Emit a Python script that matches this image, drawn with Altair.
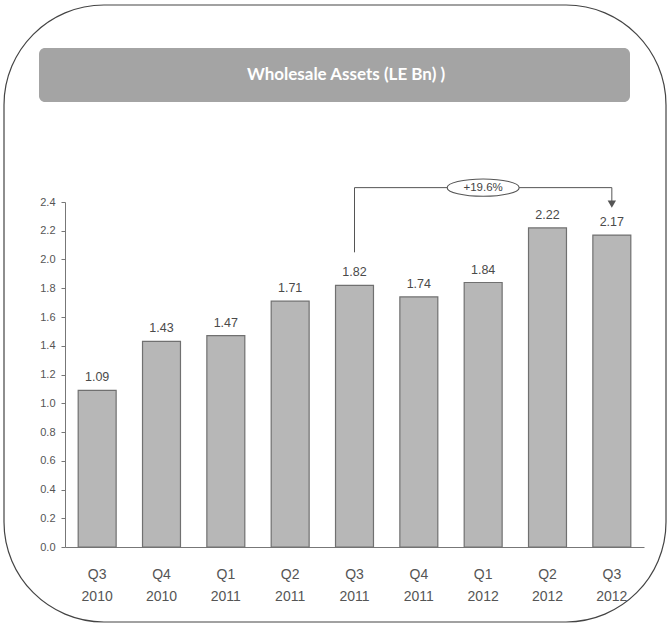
import altair as alt
import pandas as pd

# ---- data ----
quarters = ["Q3 2010", "Q4 2010", "Q1 2011", "Q2 2011", "Q3 2011",
            "Q4 2011", "Q1 2012", "Q2 2012", "Q3 2012"]
assets = [1.09, 1.43, 1.47, 1.71, 1.82, 1.74, 1.84, 2.22, 2.17]
y_ticks = [0.0, 0.2, 0.4, 0.6, 0.8, 1.0, 1.2, 1.4, 1.6, 1.8, 2.0, 2.2, 2.4]

title_text = "Wholesale Assets (LE Bn) )"

# growth bracket annotation (from Q3 2011 to Q3 2012)
bracket_cats = ["Q3 2011", "Q3 2011", "Q3 2012", "Q3 2012"]
bracket_vals = [2.05, 2.50, 2.50, 2.39]
bracket_order = [0, 1, 2, 3]
growth_label = ["+19.6%"]
growth_cat = ["Q1 2012"]
growth_val = [2.50]
arrow_cat = ["Q3 2012"]
arrow_val = [2.385]

df = pd.DataFrame({"quarter": quarters, "value": assets})
bracket_df = pd.DataFrame({"quarter": bracket_cats, "value": bracket_vals, "o": bracket_order})
growth_df = pd.DataFrame({"quarter": growth_cat, "value": growth_val, "label": growth_label})
arrow_df = pd.DataFrame({"quarter": arrow_cat, "value": arrow_val})
one = pd.DataFrame({"t": [title_text]})

W, H = 579, 345
FONT = "Liberation Sans"

x_enc = alt.X("quarter:N", sort=quarters,
              scale=alt.Scale(paddingInner=0.41, paddingOuter=0.205),
              axis=alt.Axis(title=None, labelAngle=0, ticks=False,
                            labelExpr="split(datum.label, ' ')",
                            labelFontSize=14, labelColor="#555555", labelFont=FONT,
                            labelLineHeight=22, labelPadding=20,
                            domainColor="#777777"))
y_enc = alt.Y("value:Q",
              scale=alt.Scale(domain=[0, 2.4], nice=False),
              axis=alt.Axis(title=None, values=y_ticks, tickCount=len(y_ticks),
                            format=".1f", grid=False,
                            labelFontSize=11, labelColor="#555555", labelFont=FONT,
                            labelOverlap=False,
                            tickSize=4, tickColor="#777777", labelPadding=6,
                            domainColor="#777777"))

bars = alt.Chart(df).mark_bar(fill="#b7b7b7", stroke="#707070", strokeWidth=1.2).encode(
    x=x_enc, y=y_enc)

labels = alt.Chart(df).mark_text(baseline="bottom", dy=-6, fontSize=12.5, color="#4a4a4a",
                                 font=FONT).encode(
    x=alt.X("quarter:N", sort=quarters), y="value:Q", text=alt.Text("value:Q", format=".2f"))

bracket = alt.Chart(bracket_df).mark_line(color="#555555", strokeWidth=1, clip=False).encode(
    x=alt.X("quarter:N", sort=quarters), y="value:Q", order="o:Q")

arrow = alt.Chart(arrow_df).mark_point(shape="triangle-down", filled=True, size=70,
                                       color="#555555", opacity=1, clip=False).encode(
    x=alt.X("quarter:N", sort=quarters), y="value:Q")

ellipse = alt.Chart(growth_df).mark_point(
    shape="M-1,0A1,0.24,0,1,1,1,0A1,0.24,0,1,1,-1,0Z",
    size=72 * 72, filled=True, fill="white", stroke="#555555", strokeWidth=1.1,
    opacity=1, clip=False).encode(
    x=alt.X("quarter:N", sort=quarters), y="value:Q")

growth_text = alt.Chart(growth_df).mark_text(fontSize=11.5, color="#444444", font=FONT,
                                             clip=False).encode(
    x=alt.X("quarter:N", sort=quarters), y="value:Q", text="label:N")

# decorations: outer rounded frame and title banner
frame = alt.Chart(one).mark_rect(fill=None, stroke="#444444", strokeWidth=1.2,
                                 cornerRadius=100, clip=False).encode(
    x=alt.value(-61), x2=alt.value(601), y=alt.value(-197), y2=alt.value(420))

banner = alt.Chart(one).mark_rect(fill="#a4a4a4", cornerRadius=6, clip=False).encode(
    x=alt.value(-26), x2=alt.value(565), y=alt.value(-154), y2=alt.value(-100))

banner_text = alt.Chart(one).mark_text(fontSize=17, fontWeight="bold", color="white",
                                       font="Lato", clip=False).encode(
    x=alt.value(281), y=alt.value(-127), text="t:N")

chart = alt.layer(frame, banner, banner_text, bars, labels, bracket, arrow,
                  ellipse, growth_text).properties(
    width=W, height=H,
    autosize=alt.AutoSizeParams(type="none"),
    padding={"left": 65, "top": 202, "right": 25, "bottom": 83},
    background="white",
).configure_view(stroke=None)

chart.save("out.html", embed_options={"renderer": "svg", "actions": False})
